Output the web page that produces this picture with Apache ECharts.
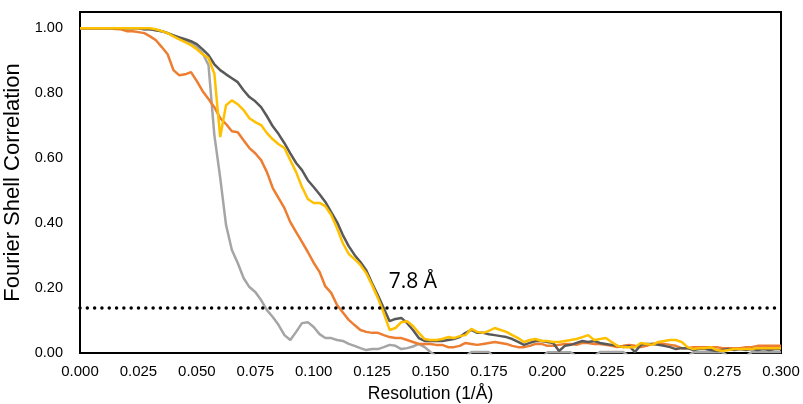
<html>
<head>
<script src="https://cdn.jsdelivr.net/npm/echarts@6/dist/echarts.min.js"></script>
</head>
<body style="margin:0;background:#fff">
<div id="main" style="width:803px;height:404px"></div>
<script>
// resolution (1/A), shared by all four curves
var resolution = [
  0.0000,0.0025,0.0050,0.0075,0.0100,0.0125,0.0150,0.0175,0.0200,0.0225,
  0.0250,0.0275,0.0300,0.0325,0.0350,0.0375,0.0400,0.0425,0.0450,0.0475,
  0.0500,0.0525,0.0550,0.0575,0.0600,0.0625,0.0650,0.0675,0.0700,0.0725,
  0.0750,0.0775,0.0800,0.0825,0.0850,0.0875,0.0900,0.0925,0.0950,0.0975,
  0.1000,0.1025,0.1050,0.1075,0.1100,0.1125,0.1150,0.1175,0.1200,0.1225,
  0.1250,0.1275,0.1300,0.1325,0.1350,0.1375,0.1400,0.1425,0.1450,0.1475,
  0.1500,0.1525,0.1550,0.1575,0.1600,0.1625,0.1650,0.1675,0.1700,0.1725,
  0.1750,0.1775,0.1800,0.1825,0.1850,0.1875,0.1900,0.1925,0.1950,0.1975,
  0.2000,0.2025,0.2050,0.2075,0.2100,0.2125,0.2150,0.2175,0.2200,0.2225,
  0.2250,0.2275,0.2300,0.2325,0.2350,0.2375,0.2400,0.2425,0.2450,0.2475,
  0.2500,0.2525,0.2550,0.2575,0.2600,0.2625,0.2650,0.2675,0.2700,0.2725,
  0.2750,0.2775,0.2800,0.2825,0.2850,0.2875,0.2900,0.2925,0.2950,0.2975,
  0.3000
];

var fscGray = [
  1.000,1.000,1.000,1.000,1.000,1.000,1.000,1.000,1.000,1.000,
  1.000,0.997,0.997,0.994,0.991,0.985,0.978,0.970,0.963,0.955,
  0.942,0.923,0.886,0.671,0.540,0.394,0.317,0.277,0.231,0.203,
  0.188,0.163,0.132,0.111,0.086,0.055,0.040,0.065,0.092,0.095,
  0.080,0.058,0.046,0.046,0.040,0.037,0.028,0.022,0.015,0.009,
  0.012,0.012,0.018,0.025,0.022,0.012,0.015,0.020,0.028,0.018,
  0.003,-0.01,-0.01,-0.01,-0.01,-0.01,-0.01,0.003,0.003,0.003,
  0.003,-0.015,-0.015,-0.015,-0.015,-0.015,-0.015,-0.015,-0.015,-0.015,
  0.002,0.002,0.002,0.002,0.002,-0.01,-0.01,-0.01,-0.01,0.003,
  0.003,0.003,0.003,0.003,-0.01,-0.01,-0.01,-0.01,-0.01,-0.01,
  -0.01,-0.01,-0.01,-0.01,-0.01,0.002,0.002,0.002,0.002,0.002,
  0.002,-0.01,-0.01,-0.01,-0.01,0.003,0.003,0.003,0.003,0.003,
  0.003
];

var fscOrange = [
  1.000,1.000,1.000,1.000,1.000,1.000,0.998,0.997,0.991,0.991,
  0.988,0.985,0.975,0.963,0.942,0.920,0.871,0.855,0.858,0.865,
  0.837,0.806,0.782,0.757,0.723,0.705,0.683,0.680,0.655,0.631,
  0.615,0.594,0.557,0.508,0.477,0.446,0.403,0.372,0.342,0.311,
  0.278,0.250,0.205,0.185,0.148,0.125,0.102,0.086,0.071,0.065,
  0.062,0.062,0.055,0.049,0.046,0.046,0.040,0.034,0.028,0.028,
  0.028,0.025,0.025,0.018,0.018,0.022,0.031,0.028,0.025,0.028,
  0.031,0.034,0.031,0.028,0.022,0.018,0.018,0.022,0.028,0.028,
  0.022,0.022,0.025,0.028,0.028,0.025,0.031,0.031,0.028,0.028,
  0.025,0.022,0.018,0.022,0.025,0.022,0.018,0.022,0.028,0.031,
  0.028,0.025,0.022,0.015,0.015,0.018,0.018,0.018,0.018,0.018,
  0.015,0.015,0.015,0.015,0.018,0.018,0.022,0.022,0.022,0.022,
  0.022
];

var fscDark = [
  1.000,1.000,1.000,1.000,1.000,1.000,1.000,1.000,1.000,1.000,
  1.000,0.997,0.997,0.994,0.991,0.985,0.978,0.972,0.966,0.960,
  0.951,0.935,0.917,0.889,0.871,0.858,0.846,0.834,0.809,0.788,
  0.775,0.757,0.729,0.698,0.674,0.646,0.615,0.585,0.563,0.532,
  0.511,0.489,0.465,0.434,0.403,0.363,0.329,0.302,0.280,0.255,
  0.215,0.178,0.138,0.098,0.105,0.108,0.092,0.071,0.046,0.037,
  0.037,0.037,0.037,0.040,0.043,0.049,0.062,0.071,0.062,0.062,
  0.058,0.055,0.052,0.049,0.043,0.034,0.025,0.031,0.037,0.037,
  0.034,0.031,0.006,0.022,0.025,0.031,0.037,0.034,0.037,0.031,
  0.028,0.025,0.022,0.018,0.022,0.003,0.025,0.028,0.028,0.025,
  0.022,0.018,0.012,0.015,0.015,0.009,0.012,0.012,0.009,0.006,
  0.009,0.012,0.009,0.012,0.009,0.012,0.009,0.012,0.009,0.012,
  0.012
];

var fscYellow = [
  1.000,1.000,1.000,1.000,1.000,1.000,1.000,1.000,1.000,1.000,
  1.000,1.000,1.000,0.997,0.991,0.985,0.975,0.966,0.957,0.948,
  0.935,0.920,0.908,0.860,0.665,0.763,0.778,0.766,0.748,0.723,
  0.711,0.702,0.677,0.658,0.643,0.631,0.594,0.557,0.511,0.474,
  0.462,0.462,0.452,0.425,0.385,0.338,0.305,0.289,0.271,0.246,
  0.209,0.169,0.123,0.071,0.077,0.095,0.098,0.083,0.062,0.043,
  0.040,0.040,0.043,0.049,0.046,0.052,0.055,0.074,0.065,0.062,
  0.068,0.077,0.071,0.065,0.055,0.046,0.034,0.040,0.043,0.037,
  0.037,0.034,0.034,0.037,0.040,0.043,0.049,0.055,0.040,0.043,
  0.046,0.034,0.022,0.018,0.018,0.018,0.031,0.028,0.025,0.034,
  0.037,0.040,0.040,0.034,0.018,0.012,0.015,0.015,0.018,0.009,
  0.006,0.009,0.012,0.012,0.012,0.012,0.015,0.015,0.015,0.015,
  0.015
];

var yTicks = [0, 0.2, 0.4, 0.6, 0.8, 1.0];
var threshold = 0.143;
var resLabel = '7.8 Å';
var resLabelAt = [0.1425, 0.218];

function pairs(ys) {
  var out = [];
  for (var i = 0; i < resolution.length; i++) out.push([resolution[i], ys[i]]);
  return out;
}

function line(data, color) {
  return {
    type: 'line',
    data: pairs(data),
    showSymbol: false,
    symbol: 'none',
    clip: true,
    lineStyle: { color: color, width: 2.5 },
    itemStyle: { color: color }
  };
}

var myChart = echarts.init(document.getElementById('main'), null, { renderer: 'canvas' });

var sGray = line(fscGray, '#A5A5A5');
var sOrange = line(fscOrange, '#ED7D31');
var sDark = line(fscDark, '#595959');
var sYellow = line(fscYellow, '#FFC000');

sDark.markLine = {
  silent: true,
  symbol: ['none', 'none'],
  label: { show: false },
  lineStyle: { color: '#000', width: 3.5, type: [0.01, 7.3], cap: 'round' },
  data: [{ yAxis: threshold }]
};
sYellow.markPoint = {
  silent: true,
  symbol: 'circle',
  symbolSize: 1,
  itemStyle: { color: 'rgba(0,0,0,0)' },
  label: {
    show: true, position: 'inside', formatter: resLabel,
    color: '#000', fontSize: 21, fontFamily: 'Open Sans'
  },
  data: [{ coord: resLabelAt }]
};

var option = {
  animation: false,
  backgroundColor: '#fff',
  grid: {
    left: 80, right: 22, top: 12, bottom: 51,
    outerBoundsMode: 'none',
    containLabel: false,
    show: true, borderColor: '#000', borderWidth: 2
  },
  xAxis: {
    type: 'value',
    min: 0, max: 0.3, interval: 0.025,
    name: 'Resolution (1/Å)',
    nameLocation: 'middle',
    nameGap: 32,
    nameTextStyle: { fontSize: 17.5, color: '#000', fontFamily: 'Liberation Sans' },
    axisLine: { lineStyle: { color: '#000', width: 2 } },
    axisTick: { show: false },
    splitLine: { show: false },
    axisLabel: {
      margin: 11, fontSize: 15, color: '#000', fontFamily: 'Liberation Sans',
      formatter: function (v) { return v.toFixed(3); }
    }
  },
  yAxis: {
    type: 'value',
    min: yTicks[0], max: 1.05, interval: 0.2,
    name: 'Fourier Shell Correlation',
    nameLocation: 'middle',
    nameGap: 51,
    nameTextStyle: { fontSize: 22, color: '#000', fontFamily: 'Liberation Sans' },
    axisLine: { lineStyle: { color: '#000', width: 2 } },
    axisTick: { show: false },
    splitLine: { show: false },
    axisLabel: {
      margin: 17, fontSize: 14.5, color: '#000', fontFamily: 'Liberation Sans',
      showMaxLabel: false,
      formatter: function (v) { return v.toFixed(2); }
    }
  },
  series: [sGray, sOrange, sDark, sYellow]
};

myChart.setOption(option);
</script>
</body>
</html>
